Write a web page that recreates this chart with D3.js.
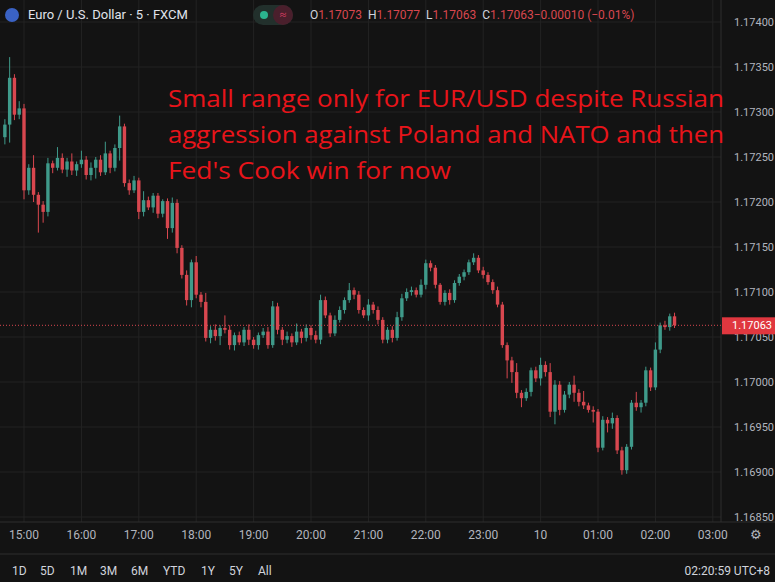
<!DOCTYPE html><html><head><meta charset="utf-8">
<script src="https://d3js.org/d3.v7.min.js"></script>
<style>body{margin:0;background:#131313}svg{display:block}</style></head><body>
<script>
// closes in points above 1.17000 (0.00001 units), 5-minute candles from 14:40
const closes=[286,338,297,304,213,238,208,197,189,243,238,249,236,245,235,242,247,230,238,247,233,254,238,260,284,221,213,224,189,202,194,207,187,201,171,199,149,119,91,133,97,89,49,58,51,60,58,41,52,44,58,47,41,52,56,41,84,58,47,51,44,56,49,60,52,47,91,74,54,69,80,91,102,97,80,74,86,80,69,47,58,49,72,93,100,102,97,108,132,127,108,89,99,91,110,117,122,133,138,124,119,111,102,86,41,24,11,-12,-18,-11,13,4,19,11,-33,-3,-31,-14,-3,-12,-22,-26,-31,-33,-73,-42,-46,-40,-76,-98,-72,-23,-28,-23,13,-6,36,63,61,73,63];
const firstOpen=272;
const wickUp=[6,23,4,8,5,4,14,3,4,6,3,12,5,4,9,3,10,4,6,3,5,13,3,4,12,3,4,5,3,10,4,3,3,2,3,6,4,3,5,3,7,3,10,4,6,3,14,5,3,4,3,6,3,3,4,5,6,4,3,5,3,9,3,4,3,5,6,4,3,5,4,3,8,3,4,3,6,3,4,3,3,4,6,5,4,4,3,6,4,3,3,2,3,4,3,3,3,3,5,3,4,3,3,4,3,3,4,10,3,4,3,4,8,4,10,5,4,4,3,10,4,12,3,4,3,4,3,6,3,4,3,3,12,3,4,3,8,3,5,3,3,4];
const wickDn=[8,20,6,5,10,5,8,31,12,5,6,3,4,8,5,6,4,5,6,12,4,3,6,4,14,4,5,3,8,5,3,6,5,4,12,5,6,4,6,8,4,6,4,6,5,10,4,5,6,3,4,6,4,5,3,4,3,5,6,4,5,3,6,4,5,4,5,3,4,3,3,4,3,5,4,3,6,4,5,4,4,5,3,4,3,4,3,3,5,4,4,3,4,5,3,3,4,3,3,3,4,3,4,3,3,20,12,6,10,3,5,4,8,5,6,14,6,3,4,10,5,4,3,12,5,3,10,6,4,5,4,3,4,6,4,4,3,4,3,4,3];
const priceTicks=[1.1685,1.169,1.1695,1.17,1.1705,1.171,1.1715,1.172,1.1725,1.173,1.1735,1.174];
const timeLabels=["15:00","16:00","17:00","18:00","19:00","20:00","21:00","22:00","23:00","10","01:00","02:00","03:00"];
const periods=["1D","5D","1M","3M","6M","YTD","1Y","5Y","All"];
const note=["Small range only for EUR/USD despite Russian","aggression against Poland and NATO and then","Fed's Cook win for now"];

const W=775,H=582,plotR=721,plotB=522;
const svg=d3.select("body").append("svg").attr("width",W).attr("height",H).style("background","#131313");
const y=d3.scaleLinear().domain([1.1685,1.174]).range([517,22]);
const x=d3.scaleLinear().domain([0,60]).range([24,81.4]);
const mins=i=>-20+5*i;
const toP=v=>1.17+v/100000;
const data=closes.map((c,i)=>{const o=i?closes[i-1]:firstOpen;return{i,o:toP(o),c:toP(c),h:toP(Math.max(o,c)+wickUp[i]),l:toP(Math.min(o,c)-wickDn[i])};});
data[data.length-1].o=1.17073;data[data.length-1].h=1.17077;

svg.append("g").selectAll("line").data(priceTicks).join("line").attr("x1",0).attr("x2",plotR).attr("y1",d=>y(d)).attr("y2",d=>y(d)).attr("stroke","#232323");
svg.append("g").selectAll("line").data(timeLabels).join("line").attr("x1",(d,i)=>x(i*60)).attr("x2",(d,i)=>x(i*60)).attr("y1",0).attr("y2",plotB).attr("stroke","#232323");
svg.append("line").attr("x1",plotR).attr("x2",plotR).attr("y1",0).attr("y2",plotB).attr("stroke","#2e2e2e");
svg.append("line").attr("x1",0).attr("x2",W).attr("y1",plotB).attr("y2",plotB).attr("stroke","#2e2e2e");
svg.append("line").attr("x1",0).attr("x2",W).attr("y1",554).attr("y2",554).attr("stroke","#2e2e2e");

const up="#3f9a8a",dn="#d8474f";
const g=svg.append("g");
g.selectAll("line").data(data).join("line").attr("x1",d=>x(mins(d.i))).attr("x2",d=>x(mins(d.i))).attr("y1",d=>y(d.h)).attr("y2",d=>y(d.l)).attr("stroke",d=>d.c>=d.o?up:dn);
g.selectAll("rect").data(data).join("rect").attr("x",d=>x(mins(d.i))-1.7).attr("width",3.4)
 .attr("y",d=>y(Math.max(d.o,d.c))).attr("height",d=>Math.max(1,Math.abs(y(d.o)-y(d.c)))).attr("fill",d=>d.c>=d.o?up:dn);

const last=data[data.length-1].c;
svg.append("line").attr("x1",0).attr("x2",plotR).attr("y1",y(last)).attr("y2",y(last)).attr("stroke",dn).attr("stroke-dasharray","1,2");
svg.append("g").selectAll("text").data(priceTicks).join("text").attr("x",734).attr("y",d=>y(d)+4).text(d=>d3.format(".5f")(d)).attr("fill","#b2b5be").attr("font-family","Roboto").attr("font-size",11);
svg.append("rect").attr("x",722).attr("y",y(last)-8).attr("width",53).attr("height",17).attr("fill","#e0373f");
svg.append("text").attr("x",732).attr("y",y(last)+4).text(d3.format(".5f")(last)).attr("fill","#fff").attr("font-family","Roboto").attr("font-size",11);
svg.append("g").selectAll("text").data(timeLabels).join("text").attr("x",(d,i)=>x(i*60)).attr("y",539).attr("text-anchor","middle").text(d=>d).attr("fill","#b2b5be").attr("font-family","Roboto").attr("font-size",12);
svg.append("text").attr("x",756).attr("y",539).attr("text-anchor","middle").text("⚙").attr("fill","#b2b5be").attr("font-size",13);
const pxs=[12,40,70,100,131,163,201,229,258];
periods.forEach((p,i)=>svg.append("text").attr("x",pxs[i]).attr("y",575).text(p).attr("fill","#d1d4dc").attr("font-family","Roboto").attr("font-size",12));
svg.append("text").attr("x",770).attr("y",575).attr("text-anchor","end").text("02:20:59 UTC+8").attr("fill","#d1d4dc").attr("font-family","Roboto").attr("font-size",12);
svg.append("circle").attr("cx",12).attr("cy",15).attr("r",7).attr("fill","#3a62c4");
svg.append("text").attr("x",28).attr("y",19).text("Euro / U.S. Dollar · 5 · FXCM").attr("fill","#e0e3eb").attr("font-family","Roboto").attr("font-size",13);
svg.append("rect").attr("x",253).attr("y",5).attr("width",40).attr("height",20).attr("rx",10).attr("fill","#22302c");
svg.append("rect").attr("x",273).attr("y",5).attr("width",20).attr("height",20).attr("rx",10).attr("fill","#4a1f2c");
svg.append("circle").attr("cx",264).attr("cy",15).attr("r",4).attr("fill","#2bb38e");
svg.append("text").attr("x",283).attr("y",19).attr("text-anchor","middle").text("≈").attr("fill","#e0406a").attr("font-size",12);
const hdr=[["O","1.17073"],["H","1.17077"],["L","1.17063"],["C","1.17063"],["","−0.00010 (−0.01%)"]];
const ht=svg.append("text").attr("x",310).attr("y",19).attr("font-family","Roboto").attr("font-size",12);
hdr.forEach(([k,v],i)=>{ht.append("tspan").text(k).attr("fill","#d1d4dc").attr("dx",i?6:0);ht.append("tspan").text(v).attr("fill","#d8474f").attr("dx",i==4?0:0);});
note.forEach((t,i)=>svg.append("text").attr("x",168).attr("y",107+i*36).text(t).attr("fill","#e8141a").attr("font-family","Open Sans").attr("font-size",24)
 .attr("textLength",[556,556,283][i]).attr("lengthAdjust","spacingAndGlyphs"));
</script></body></html>
